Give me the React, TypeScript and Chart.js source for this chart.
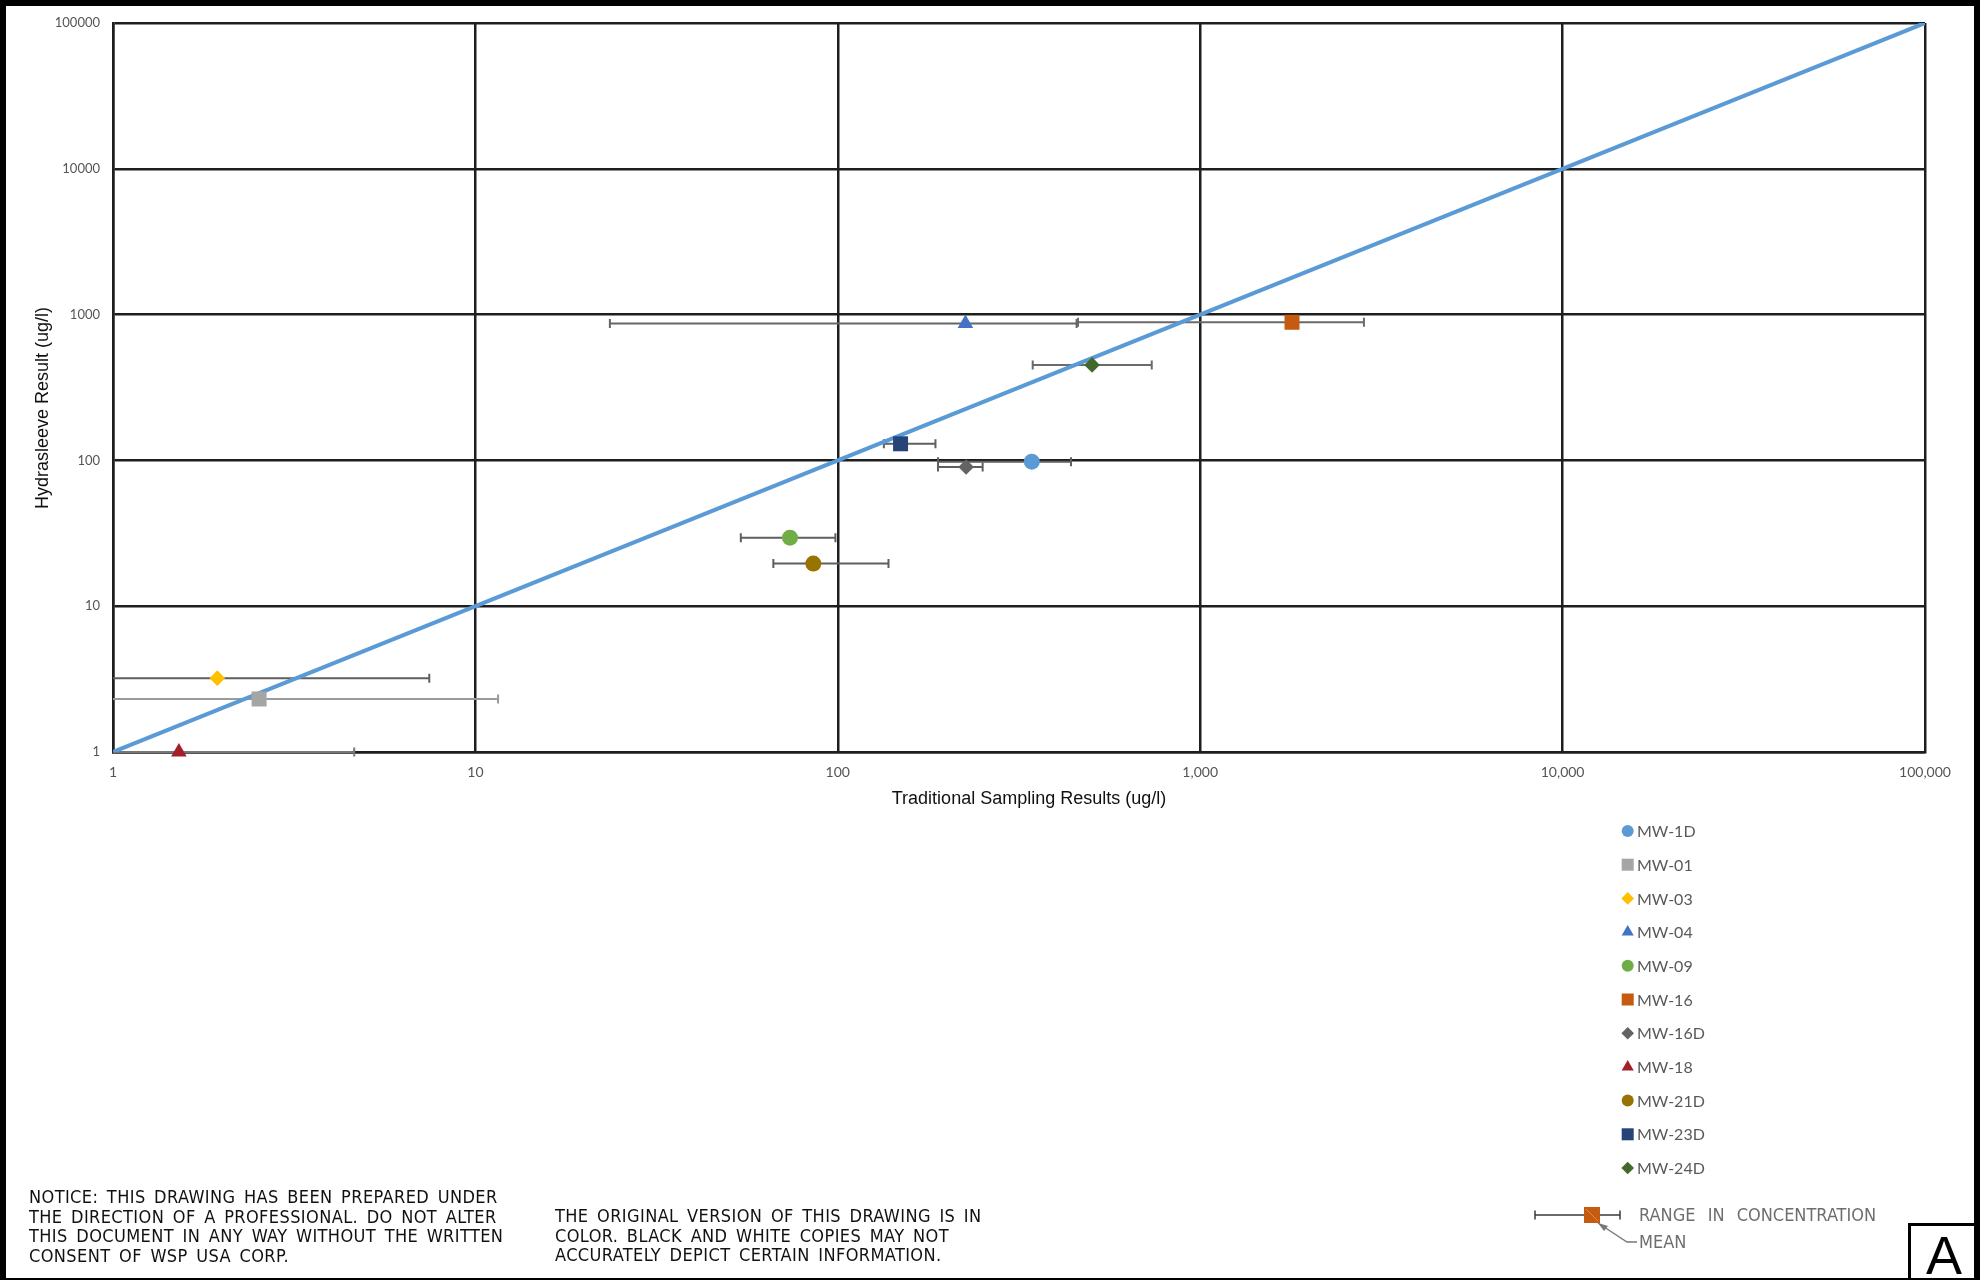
import React, { useEffect, useRef } from "react";
import { Chart, registerables } from "chart.js";
import { drawPoint } from "chart.js/helpers";

Chart.register(...registerables);

// ---- Data ----
const wells = ["MW-1D", "MW-01", "MW-03", "MW-04", "MW-09", "MW-16", "MW-16D", "MW-18", "MW-21D", "MW-23D", "MW-24D"];
const traditionalMean = [343, 2.53, 1.94, 225, 73.8, 1792, 226, 1.52, 85.6, 149, 503];
const traditionalMin = [189, 1, 1, 23.5, 54, 460, 189, 1, 66.4, 134, 345];
const traditionalMax = [440, 11.55, 7.46, 456, 98.5, 2830, 251, 4.63, 138, 186, 735];
const hydrasleeve = [98, 2.31, 3.21, 870, 29.5, 886, 90, 1, 19.6, 130, 452];
const markerColors = ["#5B9BD5", "#A5A5A5", "#FFC000", "#4472C4", "#70AD47", "#C55A11", "#636363", "#A31F2A", "#997300", "#264478", "#43682B"];
const markerShapes = ["circle", "rect", "rectRot", "triangle", "circle", "rect", "rectRot", "triangle", "circle", "rect", "rectRot"];
const rangeColors = ["#5f5f5f", "#9a9a9a", "#5f5f5f", "#666666", "#5f5f5f", "#6a6a6a", "#5f5f5f", "#777777", "#5f5f5f", "#5f5f5f", "#6a6a6a"];
const xTicks = [1, 10, 100, 1000, 10000, 100000];
const yTicks = [1, 10, 100, 1000, 10000, 100000];
const oneToOne = [1, 100000];

const xTitle = "Traditional Sampling Results (ug/l)";
const yTitle = "Hydrasleeve Result (ug/l)";

const markerRadius = (shape: string) =>
  shape === "circle" ? 8 : shape === "rect" ? 10.6 : shape === "rectRot" ? 7.8 : 9;
const legendRadius = (shape: string) =>
  shape === "circle" ? 6 : shape === "rect" ? 8.5 : shape === "rectRot" ? 6.3 : 7;

const rangeBarsPlugin = {
  id: "rangeBars",
  beforeDatasetsDraw(chart: any) {
    const { ctx, scales } = chart;
    const x = scales.x;
    const y = scales.y;
    ctx.save();
    wells.forEach((_, i) => {
      const py = y.getPixelForValue(hydrasleeve[i]);
      const x1 = x.getPixelForValue(traditionalMin[i]);
      const x2 = x.getPixelForValue(traditionalMax[i]);
      ctx.strokeStyle = rangeColors[i];
      ctx.lineWidth = 2;
      ctx.beginPath();
      ctx.moveTo(x1, py);
      ctx.lineTo(x2, py);
      if (traditionalMin[i] > x.min) {
        ctx.moveTo(x1, py - 4.5);
        ctx.lineTo(x1, py + 4.5);
      }
      ctx.moveTo(x2, py - 4.5);
      ctx.lineTo(x2, py + 4.5);
      ctx.stroke();
    });
    ctx.restore();
  },
};

const annotationsPlugin = {
  id: "annotations",
  afterDraw(chart: any) {
    const { ctx, chartArea } = chart;
    ctx.save();
    // axis titles
    ctx.fillStyle = "#111";
    ctx.font = "18px 'Liberation Sans', Arial, sans-serif";
    ctx.textAlign = "center";
    ctx.textBaseline = "middle";
    ctx.fillText(xTitle, (chartArea.left + chartArea.right) / 2 + 10, 799);
    ctx.save();
    ctx.translate(43, 408);
    ctx.rotate(-Math.PI / 2);
    ctx.fillText(yTitle, 0, 0);
    ctx.restore();

    // series legend
    ctx.textAlign = "left";
    ctx.font = "16px Lato, 'Liberation Sans', sans-serif";
    wells.forEach((name, i) => {
      const cy = 831 + i * 33.7;
      ctx.fillStyle = markerColors[i];
      ctx.strokeStyle = markerColors[i];
      drawPoint(ctx, { pointStyle: markerShapes[i], radius: legendRadius(markerShapes[i]), borderWidth: 0, rotation: 0 } as any, 1627.7, cy);
      ctx.fillStyle = "#595959";
      ctx.fillText(name, 1637, cy + 1);
    });

    // range / mean key glyph
    const ky = 1215;
    ctx.strokeStyle = "#3a3a3a";
    ctx.lineWidth = 1.5;
    ctx.beginPath();
    ctx.moveTo(1535, ky);
    ctx.lineTo(1620, ky);
    ctx.moveTo(1535, ky - 4.5);
    ctx.lineTo(1535, ky + 4.5);
    ctx.moveTo(1620, ky - 4.5);
    ctx.lineTo(1620, ky + 4.5);
    ctx.stroke();
    ctx.fillStyle = "#C55A11";
    ctx.fillRect(1584, 1207, 16, 16);
    ctx.strokeStyle = "#d88a55";
    ctx.lineWidth = 1;
    ctx.beginPath();
    ctx.moveTo(1586, 1209);
    ctx.lineTo(1598, 1221);
    ctx.stroke();
    ctx.strokeStyle = "#777";
    ctx.lineWidth = 1.3;
    ctx.beginPath();
    ctx.moveTo(1598, 1223);
    ctx.lineTo(1627, 1242);
    ctx.lineTo(1637, 1242);
    ctx.stroke();
    ctx.fillStyle = "#777";
    ctx.beginPath();
    ctx.moveTo(1598, 1223);
    ctx.lineTo(1608, 1226);
    ctx.lineTo(1604, 1231);
    ctx.closePath();
    ctx.fill();
    ctx.restore();
  },
};

export default function App() {
  const canvasRef = useRef<HTMLCanvasElement>(null);

  useEffect(() => {
    const canvas = canvasRef.current;
    if (!canvas) return;
    const datasets: any[] = [
      {
        type: "line",
        label: "1:1",
        data: oneToOne.map((v) => ({ x: v, y: v })),
        borderColor: "#5B9BD5",
        borderWidth: 4,
        pointRadius: 0,
        order: 1,
      },
      ...wells.map((w, i) => ({
        type: "scatter",
        label: w,
        data: [{ x: traditionalMean[i], y: hydrasleeve[i] }],
        pointStyle: markerShapes[i],
        pointRadius: markerRadius(markerShapes[i]),
        backgroundColor: markerColors[i],
        borderColor: markerColors[i],
        borderWidth: 0,
        clip: false,
        order: 0,
      })),
    ];

    const chart = new Chart(canvas, {
      type: "scatter",
      data: { datasets },
      plugins: [rangeBarsPlugin, annotationsPlugin],
      options: {
        responsive: false,
        animation: false,
        devicePixelRatio: 1,
        events: [],
        layout: { padding: { left: 0, top: 23, right: 61, bottom: 488 } },
        plugins: { legend: { display: false }, tooltip: { enabled: false } },
        scales: {
          x: {
            type: "logarithmic",
            position: "bottom",
            min: 1,
            max: 100000,
            afterBuildTicks: (s: any) => {
              s.ticks = xTicks.map((v) => ({ value: v }));
            },
            afterFit: (s: any) => {
              s.height = 40;
            },
            grid: { color: "#1e1e1e", lineWidth: 2.5, drawTicks: false },
            border: { display: true, color: "#1e1e1e", width: 2.5 },
            ticks: {
              font: { family: "Lato", size: 14 },
              color: "#555",
              padding: 12,
              maxRotation: 0,
              autoSkip: false,
              callback: (v: any) => Number(v).toLocaleString("en-US"),
            },
          },
          y: {
            type: "logarithmic",
            position: "left",
            min: 1,
            max: 100000,
            afterBuildTicks: (s: any) => {
              s.ticks = yTicks.map((v) => ({ value: v }));
            },
            afterFit: (s: any) => {
              s.width = 113;
            },
            grid: { color: "#1e1e1e", lineWidth: 2.5, drawTicks: false },
            border: { display: true, color: "#1e1e1e", width: 2.5 },
            ticks: {
              font: { family: "Lato", size: 13 },
              color: "#555",
              padding: 13,
              autoSkip: false,
              callback: (v: any) => String(v),
            },
          },
        },
      } as any,
    });
    return () => chart.destroy();
  }, []);

  const narrow = "'Liberation Sans Narrow', 'Arial Narrow', 'DejaVu Sans Condensed', 'Liberation Sans', sans-serif";

  return (
    <div style={{ position: "absolute", left: 0, top: 0, width: 1986, height: 1280, background: "#fff", overflow: "hidden" }}>
      <canvas ref={canvasRef} width={1986} height={1280} style={{ position: "absolute", left: 0, top: 0, display: "block" }} />
      <div style={{ position: "absolute", left: 0, top: 0, width: 1980, height: 1284, border: "6px solid #000", boxSizing: "border-box" }} />
      <div
        style={{
          position: "absolute",
          left: 29,
          top: 1187,
          fontFamily: narrow,
          fontSize: 18,
          lineHeight: "19.5px",
          color: "#111",
          whiteSpace: "pre",
          letterSpacing: "0.4px",
          wordSpacing: "3px",
        }}
      >
        {"NOTICE: THIS DRAWING HAS BEEN PREPARED UNDER\nTHE DIRECTION OF A PROFESSIONAL. DO NOT ALTER\nTHIS DOCUMENT IN ANY WAY WITHOUT THE WRITTEN\nCONSENT OF WSP USA CORP."}
      </div>
      <div
        style={{
          position: "absolute",
          left: 555,
          top: 1206,
          fontFamily: narrow,
          fontSize: 18,
          lineHeight: "19.5px",
          color: "#111",
          whiteSpace: "pre",
          letterSpacing: "0.4px",
          wordSpacing: "3px",
        }}
      >
        {"THE ORIGINAL VERSION OF THIS DRAWING IS IN\nCOLOR. BLACK AND WHITE COPIES MAY NOT\nACCURATELY DEPICT CERTAIN INFORMATION."}
      </div>
      <div
        style={{
          position: "absolute",
          left: 1639,
          top: 1204,
          fontFamily: narrow,
          fontSize: 18,
          lineHeight: "22px",
          color: "#6e6e6e",
          whiteSpace: "pre",
          wordSpacing: "7px",
        }}
      >
        {"RANGE IN CONCENTRATION"}
      </div>
      <div
        style={{
          position: "absolute",
          left: 1639,
          top: 1231,
          fontFamily: narrow,
          fontSize: 18,
          lineHeight: "22px",
          color: "#6e6e6e",
          whiteSpace: "pre",
        }}
      >
        {"MEAN"}
      </div>
      <div
        style={{
          position: "absolute",
          left: 1908,
          top: 1223,
          width: 72,
          height: 62,
          border: "3px solid #000",
          boxSizing: "border-box",
          fontFamily: "'Liberation Sans', Arial, sans-serif",
          fontSize: 54,
          lineHeight: "58px",
          textAlign: "center",
          color: "#000",
        }}
      >
        A
      </div>
    </div>
  );
}
